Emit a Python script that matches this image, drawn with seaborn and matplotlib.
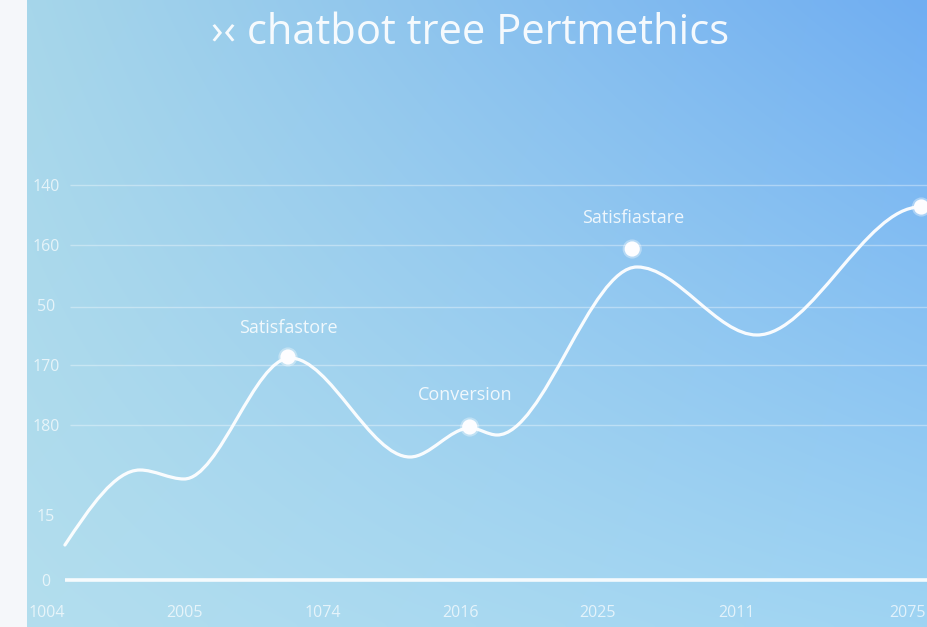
import numpy as np
import pandas as pd
import matplotlib
matplotlib.use("Agg")
import matplotlib.pyplot as plt
from matplotlib.path import Path
from matplotlib.patches import PathPatch
import seaborn as sns

# ---------------- data ----------------
title = "\u203a\u2039 chatbot tree Pertmethics"
x_tick_pos = [0, 1, 2, 3, 4, 5.01, 6.25]
x_tick_labels = ["1004", "2005", "1074", "2016", "2025", "2011", "2075"]
y_tick_pos = [0, 13, 31, 43, 55, 67, 79]
y_tick_labels = ["0", "15", "180", "170", "50", "160", "140"]
grid_levels = [31, 43, 54.6, 67, 79]

curve_x = [0.13, 0.675, 0.995, 1.765, 2.636, 3.072, 3.268, 4.285, 5.156, 6.34]
curve_y = [7.0, 22.0, 20.2, 44.4, 24.6, 30.4, 29.0, 62.6, 49.0, 74.6]

marker_x = [1.75, 3.07, 4.25, 6.35]
marker_y = [44.6, 30.6, 66.2, 74.6]

ann_text = ["Satisfastore", "Conversion", "Satisfiastare"]
ann_x = [1.75, 3.035, 4.255]
ann_y = [50.4, 37.0, 72.4]

# ---------------- figure ----------------
sns.set_theme(style="white")
plt.rcParams["font.family"] = ["Open Sans", "DejaVu Sans"]

W, H = 927, 627
fig = plt.figure(figsize=(W / 100, H / 100), dpi=100)
fig.patch.set_facecolor("#f5f7fa")

# gradient background panel
bg = fig.add_axes([27 / W, 0, (W - 27) / W, 1])
bg.set_axis_off()
def hx(c):
    c = c.lstrip("#")
    return np.array([int(c[i:i + 2], 16) for i in (0, 2, 4)]) / 255.0
TL, TR, BL, BR = hx("#a6d6ea"), hx("#70aef2"), hx("#b3deee"), hx("#9fd4f3")
ny, nx = 120, 180
u = np.linspace(0, 1, nx)[None, :, None]
v = np.linspace(0, 1, ny)[:, None, None]
top = TL * (1 - u) + TR * u
bot = BL * (1 - u) + BR * u
img = top * (1 - v) + bot * v
bg.imshow(img, aspect="auto", extent=[0, 1, 0, 1], interpolation="bicubic")

# main axes
ax = fig.add_axes([27 / W, (H - 580) / H, (W - 27) / W, 430 / H])
ax.patch.set_alpha(0)
xl = ((27 - 47) / 137.7, (927 - 47) / 137.7)
ax.set_xlim(*xl)
ax.set_ylim(0, 86)
for s in ax.spines.values():
    s.set_visible(False)

# grid lines & baseline
ax.hlines(grid_levels, (70 - 47) / 137.7, xl[1], colors="white", alpha=0.35, lw=1.0, zorder=1)
ax.hlines([0], 0.13, xl[1], colors="white", alpha=0.9, lw=2.6, zorder=2, clip_on=False)

# smooth curve (monotone cubic Bezier through the read points)
xs = np.array(curve_x)
ys = np.array(curve_y)
h = np.diff(xs)
d = np.diff(ys) / h
m = np.zeros_like(ys)
for k in range(1, len(xs) - 1):
    if d[k - 1] * d[k] > 0:
        w1 = 2 * h[k] + h[k - 1]
        w2 = h[k] + 2 * h[k - 1]
        m[k] = (w1 + w2) / (w1 / d[k - 1] + w2 / d[k])
m[0] = 1.5 * d[0]
m[-1] = 0.0
verts = [(xs[0], ys[0])]
codes = [Path.MOVETO]
for k in range(len(xs) - 1):
    verts += [(xs[k] + h[k] / 3, ys[k] + m[k] * h[k] / 3),
              (xs[k + 1] - h[k] / 3, ys[k + 1] - m[k + 1] * h[k] / 3),
              (xs[k + 1], ys[k + 1])]
    codes += [Path.CURVE4] * 3
line_path = Path(verts, codes)
ax.add_patch(PathPatch(line_path, facecolor="none", edgecolor="white", lw=2.3, alpha=0.95,
                       capstyle="round", zorder=3))

# markers
mk = pd.DataFrame({"x": marker_x, "y": marker_y})
sns.scatterplot(data=mk, x="x", y="y", ax=ax, s=190, color="white", alpha=0.35,
                edgecolor="none", zorder=4, legend=False)
sns.scatterplot(data=mk, x="x", y="y", ax=ax, s=120, color="#fdfdff",
                edgecolor="none", zorder=5, legend=False)

# annotations
for t, x, y in zip(ann_text, ann_x, ann_y):
    ax.text(x, y, t, ha="center", va="center", fontsize=13, color="white", alpha=0.85, zorder=6)

# ticks
ax.set_xticks(x_tick_pos)
ax.set_xticklabels(x_tick_labels)
ax.set_yticks(y_tick_pos)
ax.set_yticklabels(y_tick_labels)
ax.tick_params(axis="x", length=0, pad=18, labelsize=11.5, labelcolor=(1, 1, 1, 0.7))
ax.tick_params(axis="y", length=0, pad=-13.7, labelsize=11.5, labelcolor=(1, 1, 1, 0.7))
for lab in ax.get_yticklabels():
    lab.set_ha("center")
ax.set_xlabel("")
ax.set_ylabel("")

# title
fig.text(470 / W, 1 - 33 / H, title, ha="center", va="center", fontsize=30,
         color="white", alpha=0.92)

fig.savefig("out.png", dpi=100, facecolor=fig.get_facecolor())
